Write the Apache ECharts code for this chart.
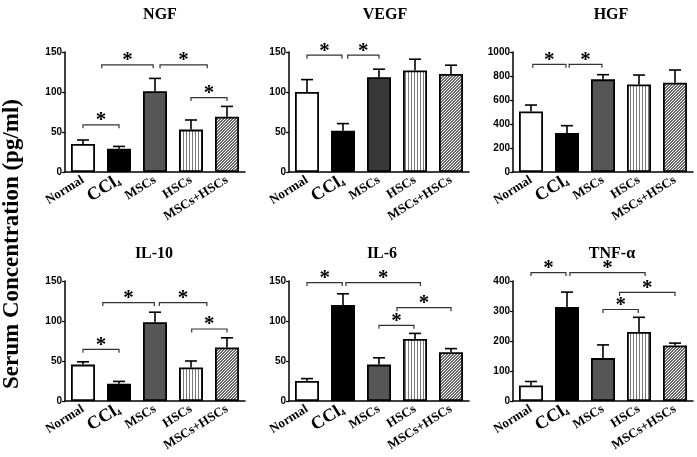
<!DOCTYPE html>
<html>
<head>
<meta charset="utf-8">
<script src="https://cdn.jsdelivr.net/npm/echarts@6/dist/echarts.min.js"></script>
<style>html,body{margin:0;padding:0;background:#fff;}#chart{width:697px;height:457px;}</style>
</head>
<body>
<div id="chart"></div>
<script>
// ---- data ----
const categories = ['Normal', 'CCl4', 'MSCs', 'HSCs', 'MSCs+HSCs'];
const panelTitles = ['NGF', 'VEGF', 'HGF', 'IL-10', 'IL-6', 'TNF-α'];
const yAxisTitle = 'Serum Concentration (pg/ml)';

const ngfMean  = [35, 29, 101, 53, 69];
const ngfSem   = [5, 3, 16, 12, 13];
const vegfMean = [100, 51.5, 118.5, 127, 122.5];
const vegfSem  = [15.5, 9, 10, 14, 11];
const hgfMean  = [505, 325, 772, 730, 744];
const hgfSem   = [53, 61, 39, 78, 106];
const il10Mean = [45.5, 21.5, 98.5, 42, 67];
const il10Sem  = [3.5, 3, 12.5, 8, 12];
const il6Mean  = [25, 120, 45.5, 77.5, 61];
const il6Sem   = [3, 14, 8.5, 7, 4.5];
const tnfMean  = [52, 313, 143, 230, 185];
const tnfSem   = [13, 50, 44, 49, 8];

const yMaxes    = [150, 150, 1000, 150, 150, 400];
const yIntervals = [50, 50, 200, 50, 50, 100];

// significance brackets: [from category position, to category position, height]
const ngfBrackets  = [[0, 1, 59], [0.52, 1.95, 134], [2.14, 3.45, 134], [3, 4, 93]];
const vegfBrackets = [[0, 0.97, 146], [1.13, 2, 146]];
const hgfBrackets  = [[0.05, 0.97, 897], [1.06, 1.97, 897]];
const il10Brackets = [[0, 1, 64.6], [0.55, 1.98, 123], [2.12, 3.44, 123], [3.02, 4, 90]];
const il6Brackets  = [[0, 0.98, 148], [1.08, 3.15, 148], [2, 2.97, 94.6], [2.5, 4, 116.7]];
const tnfBrackets  = [[0, 0.97, 428], [1.08, 3.17, 428], [2, 2.98, 305], [2.46, 4, 362]];

// ---- patterns / styles ----
function stripePattern() {
  const c = document.createElement('canvas'); c.width = 3; c.height = 3;
  const g = c.getContext('2d');
  g.fillStyle = '#fff'; g.fillRect(0, 0, 3, 3);
  g.fillStyle = '#7a7a7a'; g.fillRect(0, 0, 1, 3);
  return c;
}
function hatchPattern() {
  const c = document.createElement('canvas'); c.width = 3; c.height = 3;
  const g = c.getContext('2d');
  g.fillStyle = '#fff'; g.fillRect(0, 0, 3, 3);
  g.fillStyle = '#6a6a6a';
  for (let i = 0; i < 3; i++) { g.fillRect(i, 2 - i, 1, 1); g.fillRect((i + 1) % 3, 2 - i, 1, 1); }
  return c;
}
const stripe = { image: stripePattern(), repeat: 'repeat' };
const hatch = { image: hatchPattern(), repeat: 'repeat' };
const mscColors = ['#565656', '#383838', '#565656', '#565656', '#565656', '#565656'];

const panels = [
  { mean: ngfMean, sem: ngfSem, br: ngfBrackets },
  { mean: vegfMean, sem: vegfSem, br: vegfBrackets },
  { mean: hgfMean, sem: hgfSem, br: hgfBrackets },
  { mean: il10Mean, sem: il10Sem, br: il10Brackets },
  { mean: il6Mean, sem: il6Sem, br: il6Brackets },
  { mean: tnfMean, sem: tnfSem, br: tnfBrackets }
];
const gridLefts = [65, 289, 513, 65, 289, 513];
const gridTops = [52, 52, 52, 281, 281, 281];
const titleX = [155, 380, 606, 149, 377, 607];
const titleTop = [2, 2, 2, 241, 241, 241];

const serif = '"Liberation Serif", "Times New Roman", serif';
const sans = '"Liberation Sans", Arial, sans-serif';

const chart = echarts.init(document.getElementById('chart'), null, { renderer: 'canvas' });

const option = {
  backgroundColor: '#fff',
  animation: false,
  title: panelTitles.map((t, i) => ({
    text: t, left: titleX[i], top: titleTop[i], textAlign: 'center',
    textStyle: { fontFamily: serif, fontWeight: 'bold', fontSize: 16, color: '#000' }
  })),
  graphic: [{
    type: 'text', x: 12, y: 244, rotation: Math.PI / 2,
    style: { text: yAxisTitle, fontFamily: serif, fontWeight: 'bold', fontSize: 23, fill: '#000',
      textAlign: 'center', textVerticalAlign: 'middle' }
  }],
  grid: panels.map((p, i) => ({ left: gridLefts[i], top: gridTops[i], width: 180, height: 120 })),
  xAxis: panels.map((p, i) => ({
    type: 'category', gridIndex: i, data: categories,
    axisLine: { lineStyle: { color: '#000', width: 1.5 } },
    axisTick: { alignWithLabel: true, length: 4, lineStyle: { color: '#000', width: 1.2 } },
    axisLabel: {
      interval: 0, rotate: 32, margin: 7, color: '#000',
      fontFamily: serif, fontWeight: 'bold', fontSize: 13,
      formatter: v => v === 'CCl4' ? '{big|CCl}{sub|4}' : v,
      rich: {
        big: { fontFamily: serif, fontWeight: 'bold', fontSize: 18, color: '#000' },
        sub: { fontFamily: serif, fontWeight: 'bold', fontSize: 9, color: '#000', verticalAlign: 'bottom', padding: [7, 0, 0, 0] }
      }
    }
  })),
  yAxis: panels.map((p, i) => ({
    type: 'value', gridIndex: i, min: 0, max: yMaxes[i], interval: yIntervals[i],
    splitLine: { show: false },
    axisLine: { show: true, lineStyle: { color: '#000', width: 1.5 } },
    axisTick: { show: true, length: 3, lineStyle: { color: '#000', width: 1.2 } },
    axisLabel: { color: '#000', fontFamily: sans, fontWeight: 'bold', fontSize: 10, margin: 3,
      formatter: v => String(v) }
  })),
  series: []
};

panels.forEach((p, i) => {
  const fills = ['#fff', '#000', mscColors[i], stripe, hatch];
  option.series.push({
    type: 'bar', xAxisIndex: i, yAxisIndex: i, barWidth: 24,
    data: p.mean.map((v, k) => ({ value: v, itemStyle: { color: fills[k], borderColor: '#000', borderWidth: 1.8 } })),
    z: 2
  });
  option.series.push({
    type: 'custom', xAxisIndex: i, yAxisIndex: i, z: 3,
    data: p.mean.map((v, k) => [k, v, p.sem[k]]),
    encode: { x: 0, y: 1 },
    renderItem: (params, api) => {
      const x = api.value(0), m = api.value(1), s = api.value(2);
      const a = api.coord([x, m]), b = api.coord([x, m + s]);
      const hw = 6;
      return { type: 'group', children: [
        { type: 'line', shape: { x1: a[0], y1: a[1], x2: b[0], y2: b[1] }, style: { stroke: '#000', lineWidth: 1.6 } },
        { type: 'line', shape: { x1: b[0] - hw, y1: b[1], x2: b[0] + hw, y2: b[1] }, style: { stroke: '#000', lineWidth: 1.6 } }
      ] };
    }
  });
  option.series.push({
    type: 'custom', xAxisIndex: i, yAxisIndex: i, z: 4, clip: false,
    data: p.br,
    encode: { x: 0, y: 2 },
    renderItem: (params, api) => {
      const f1 = api.value(0), f2 = api.value(1), y = api.value(2);
      const c0 = api.coord([0, y]);
      const bw = api.size([1, 0])[0];
      const xa = c0[0] + f1 * bw, xb = c0[0] + f2 * bw, yy = c0[1];
      return { type: 'group', children: [
        { type: 'polyline', shape: { points: [[xa, yy + 3.5], [xa, yy], [xb, yy], [xb, yy + 3.5]] },
          style: { stroke: '#333', lineWidth: 1.2, fill: null } },
        { type: 'text', x: (xa + xb) / 2, y: yy - 4,
          style: { text: '*', fontFamily: serif, fontWeight: 'bold', fontSize: 21, fill: '#000',
            textAlign: 'center', textVerticalAlign: 'middle' } }
      ] };
    }
  });
});

chart.setOption(option);
</script>
</body>
</html>
